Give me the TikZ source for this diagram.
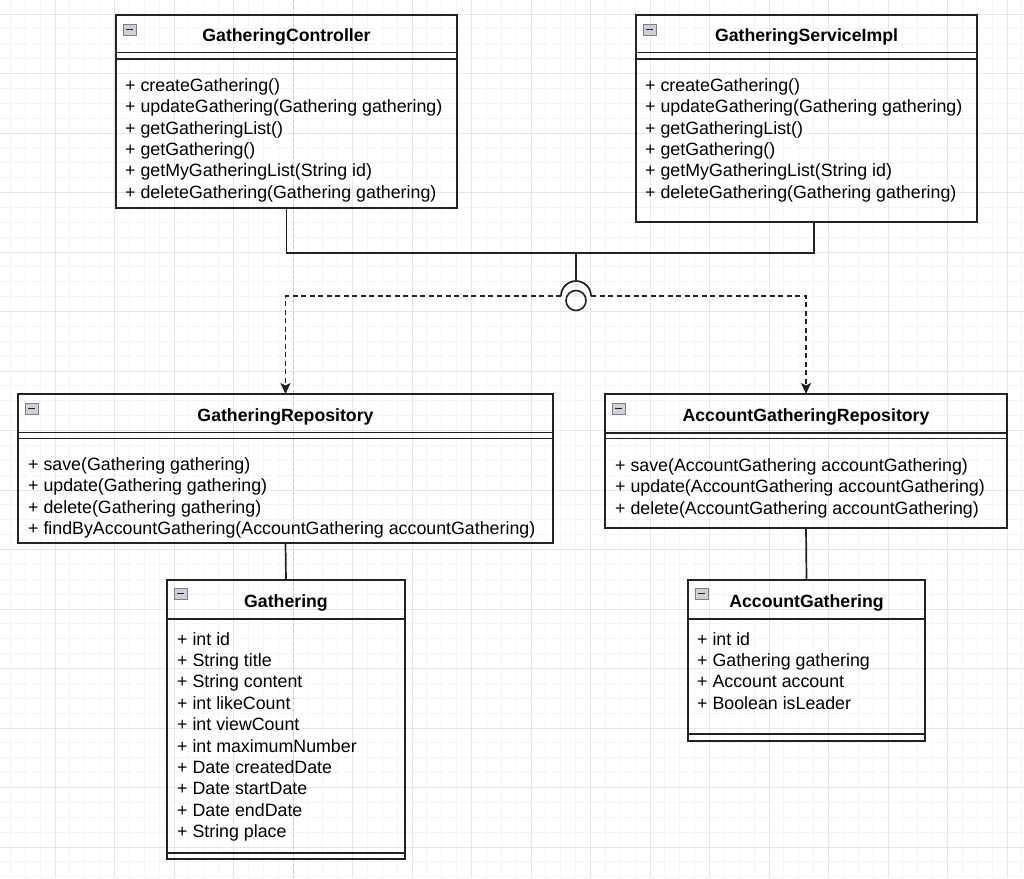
\documentclass[tikz,border=0pt]{standalone}
\usepackage{fontspec}
\setmainfont{Liberation Sans}
\usetikzlibrary{arrows.meta,calc}
\definecolor{minorc}{HTML}{F5F5F5}
\definecolor{majorc}{HTML}{E6E6E6}
\definecolor{guidec}{HTML}{CCCCCC}
\definecolor{linec}{HTML}{222222}
\definecolor{iconfill}{HTML}{CFD0D8}
\definecolor{iconedge}{HTML}{7D7F8C}
\begin{document}
\begin{tikzpicture}[x=1pt,y=-1pt,
  classbox/.style={draw=linec, line width=1.7pt, inner sep=0pt, outer sep=0pt, anchor=north west},
  sepline/.style={draw=linec, line width=1.6pt},
  titletext/.style={font=\bfseries\fontsize{17.7}{21}\selectfont, inner sep=0pt, anchor=base},
  member/.style={font=\fontsize{17.8}{21.4}\selectfont, inner sep=0pt, anchor=base west},
  conn/.style={draw=linec, line width=1.7pt},
  dep/.style={draw=linec, line width=1.6pt, dash pattern=on 5pt off 3.5pt, -{Stealth[length=11pt,width=10pt,inset=2.5pt]}},
  minorgrid/.style={draw=minorc, line width=0.8pt},
  majorgrid/.style={draw=majorc, line width=0.9pt},
  iconbox/.style={draw=iconedge, fill=iconfill, line width=0.7pt, inner sep=0pt, outer sep=0pt, minimum width=13pt, minimum height=11pt, anchor=north west},
]
\useasboundingbox (0,0) rectangle (1024,878);
\fill[white] (0,0) rectangle (1024,878);
% grid
\foreach \i in {0,...,70} {\draw[minorgrid] ({-4.5+14.875*\i},0) -- ({-4.5+14.875*\i},878);}
\foreach \i in {0,...,60} {\draw[minorgrid] (0,{-0.875+14.875*\i}) -- (1024,{-0.875+14.875*\i});}
\foreach \i in {0,...,18} {\draw[majorgrid] ({-4.5+59.5*\i},0) -- ({-4.5+59.5*\i},878);}
\foreach \i in {0,...,15} {\draw[majorgrid] (0,{14+59.5*\i}) -- (1024,{14+59.5*\i});}
\draw[guidec, line width=0.9pt, dash pattern=on 3pt off 3pt] (293.3,0) -- (293.3,878);

% ---------- GatheringController
\node[classbox, minimum width=341pt, minimum height=193pt] (gc) at (116,15) {};
\draw[sepline] (116,52.5) -- (457,52.5);
\draw[sepline] (116,59) -- (457,59);
\node[iconbox] (gci) at (123,24) {};
\draw[linec, line width=1.6pt] (126,29.5) -- (133,29.5);
\node[titletext] (gct) at (286.5,41) {GatheringController};
\foreach \t [count=\i from 0] in {{+ createGathering()},{+ updateGathering(Gathering gathering)},{+ getGatheringList()},{+ getGathering()},{+ getMyGatheringList(String id)},{+ deleteGathering(Gathering gathering)}}
  {\node[member] (gcm\i) at (125,{91.5+21.35*\i}) {\t};}

% ---------- GatheringServiceImpl
\node[classbox, minimum width=341pt, minimum height=207pt] (gs) at (636,15) {};
\draw[sepline] (636,52.5) -- (977,52.5);
\draw[sepline] (636,59) -- (977,59);
\node[iconbox] (gsi) at (643,24) {};
\draw[linec, line width=1.6pt] (646,29.5) -- (653,29.5);
\node[titletext] (gst) at (806.5,41) {GatheringServiceImpl};
\foreach \t [count=\i from 0] in {{+ createGathering()},{+ updateGathering(Gathering gathering)},{+ getGatheringList()},{+ getGathering()},{+ getMyGatheringList(String id)},{+ deleteGathering(Gathering gathering)}}
  {\node[member] (gsm\i) at (645,{91.5+21.35*\i}) {\t};}

% ---------- GatheringRepository
\node[classbox, minimum width=535pt, minimum height=149pt] (gr) at (18,394) {};
\draw[sepline] (18,432.5) -- (553,432.5);
\draw[sepline] (18,438.5) -- (553,438.5);
\node[iconbox] (gri) at (25,403) {};
\draw[linec, line width=1.6pt] (28,408.5) -- (35,408.5);
\node[titletext] (grt) at (285.5,421) {GatheringRepository};
\foreach \t [count=\i from 0] in {{+ save(Gathering gathering)},{+ update(Gathering gathering)},{+ delete(Gathering gathering)},{+ findByAccountGathering(AccountGathering accountGathering)}}
  {\node[member] (grm\i) at (28,{470.5+21.4*\i}) {\t};}

% ---------- AccountGatheringRepository
\node[classbox, minimum width=402pt, minimum height=134pt] (agr) at (605,394) {};
\draw[sepline] (605,433) -- (1007,433);
\draw[sepline] (605,438.5) -- (1007,438.5);
\node[iconbox] (agri) at (612,403) {};
\draw[linec, line width=1.6pt] (615,408.5) -- (622,408.5);
\node[titletext] (agrt) at (806,421) {AccountGatheringRepository};
\foreach \t [count=\i from 0] in {{+ save(AccountGathering accountGathering)},{+ update(AccountGathering accountGathering)},{+ delete(AccountGathering accountGathering)}}
  {\node[member] (agrm\i) at (615,{471.5+21.4*\i}) {\t};}

% ---------- Gathering
\node[classbox, minimum width=238pt, minimum height=279pt] (g) at (167,580) {};
\draw[sepline] (167,619) -- (405,619);
\draw[sepline] (167,853) -- (405,853);
\node[iconbox] (gi) at (174,588) {};
\draw[linec, line width=1.6pt] (177,593.5) -- (184,593.5);
\node[titletext] (gt) at (286,607) {Gathering};
\foreach \t [count=\i from 0] in {{+ int id},{+ String title},{+ String content},{+ int likeCount},{+ int viewCount},{+ int maximumNumber},{+ Date createdDate},{+ Date startDate},{+ Date endDate},{+ String place}}
  {\node[member] (gm\i) at (177,{645+21.4*\i}) {\t};}

% ---------- AccountGathering
\node[classbox, minimum width=237pt, minimum height=161pt] (ag) at (688,580) {};
\draw[sepline] (688,619) -- (925,619);
\draw[sepline] (688,734) -- (925,734);
\node[iconbox] (agi) at (695,588) {};
\draw[linec, line width=1.6pt] (698,593.5) -- (705,593.5);
\node[titletext] (agt) at (806.5,607) {AccountGathering};
\foreach \t [count=\i from 0] in {{+ int id},{+ Gathering gathering},{+ Account account},{+ Boolean isLeader}}
  {\node[member] (agm\i) at (697,{645+21.4*\i}) {\t};}

% ---------- connectors
\coordinate (junc) at (576,253);
\coordinate (socktop) at (576,281);
\coordinate (sockL) at (561,296);
\coordinate (sockR) at (591,296);
\draw[conn] (gc.south) |- (junc) -| ([xshift=7.5pt]gs.south);
\draw[conn] (junc) -- (socktop);
\draw[conn] (sockL) arc[start angle=180, end angle=0, radius=15pt];
\node[circle, draw=linec, line width=1.6pt, minimum size=20pt, inner sep=0pt] (ball) at (576,300.5) {};
\draw[dep] (sockL) -| (gr.north);
\draw[dep] (sockR) -| (agr.north);
\draw[conn] (gr.south) -- (g.north);
\draw[conn] (agr.south) -- (ag.north);
\end{tikzpicture}
\end{document}
